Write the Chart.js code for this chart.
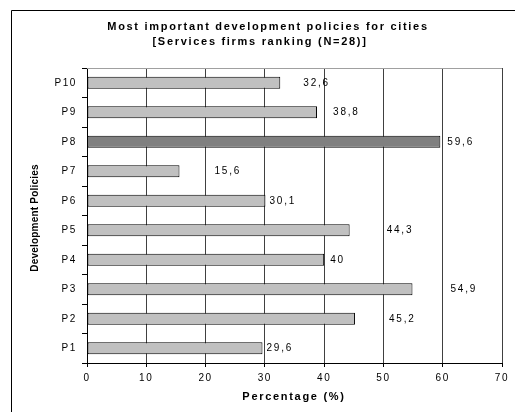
<!DOCTYPE html>
<html>
<head>
<meta charset="utf-8">
<script src="https://cdn.jsdelivr.net/npm/chart.js@4/dist/chart.umd.min.js"></script>
<style>
  html, body { margin: 0; padding: 0; background: #fff; }
  #wrap { width: 515px; height: 412px; position: relative; }
</style>
</head>
<body>
<div id="wrap"><canvas id="chart" width="515" height="412"></canvas></div>
<script>
// Policy categories, bottom to top
const policies = ['P1', 'P2', 'P3', 'P4', 'P5', 'P6', 'P7', 'P8', 'P9', 'P10'];
// Share of services firms ranking each policy (%)
const percentages = [29.6, 45.2, 54.9, 40, 44.3, 30.1, 15.6, 59.6, 38.8, 32.6];
// Percentage axis ticks
const xTicks = [0, 10, 20, 30, 40, 50, 60, 70];

const titleLines = ['Most important development policies for cities', '[Services firms ranking (N=28)]'];
const xTitle = 'Percentage (%)';
const yTitle = 'Development Policies';

const FONT = '"Liberation Sans", Arial, sans-serif';
const top1 = Math.max(...percentages);
const fills = percentages.map(v => v === top1 ? '#808080' : '#c0c0c0');

// Horizontal gaps (px) between each bar end and its value label
const labelGap = [4, 34, 38, 6, 37, 4, 35, 7, 16, 23];

const decor = {
  id: 'decor',
  beforeDraw(chart) {
    const ctx = chart.ctx;
    ctx.save();
    ctx.fillStyle = '#fff';
    ctx.fillRect(0, 0, chart.width, chart.height);
    // outer frame
    ctx.strokeStyle = '#000';
    ctx.lineWidth = 1;
    ctx.beginPath();
    ctx.moveTo(11.5, chart.height);
    ctx.lineTo(11.5, 10.5);
    ctx.lineTo(chart.width, 10.5);
    ctx.stroke();
    ctx.restore();
    // wide tracking for the axis tick labels
    ctx.letterSpacing = '1.6px';
  },
  afterDatasetsDraw(chart) {
    const ctx = chart.ctx;
    const a = chart.chartArea;
    ctx.save();
    // plot top edge
    ctx.strokeStyle = '#a0a0a0';
    ctx.lineWidth = 1;
    ctx.beginPath();
    ctx.moveTo(a.left, Math.round(a.top) + 0.5);
    ctx.lineTo(a.right, Math.round(a.top) + 0.5);
    ctx.stroke();

    // value labels
    const meta = chart.getDatasetMeta(0);
    ctx.fillStyle = '#000';
    ctx.font = '10px ' + FONT;
    ctx.letterSpacing = '1.8px';
    ctx.textBaseline = 'middle';
    ctx.textAlign = 'left';
    meta.data.forEach((bar, i) => {
      const txt = String(percentages[i]).replace('.', ',');
      ctx.fillText(txt, bar.x + labelGap[i], bar.y);
    });

    // chart title
    ctx.textAlign = 'center';
    ctx.font = 'bold 11px ' + FONT;
    ctx.letterSpacing = '1.7px';
    ctx.fillText(titleLines[0], 268, 27);
    ctx.fillText(titleLines[1], 260, 42);

    // x axis title
    ctx.fillText(xTitle, 294, 397);

    // y axis title
    ctx.translate(35, 218);
    ctx.rotate(-Math.PI / 2);
    ctx.font = 'bold 10px ' + FONT;
    ctx.letterSpacing = '0.2px';
    ctx.fillText(yTitle, 0, 0);
    ctx.restore();
  }
};

new Chart(document.getElementById('chart'), {
  type: 'bar',
  data: {
    labels: policies,
    datasets: [{
      data: percentages,
      backgroundColor: fills,
      borderColor: '#000',
      borderWidth: 1,
      borderSkipped: false,
      categoryPercentage: 1,
      barPercentage: 0.4
    }]
  },
  options: {
    indexAxis: 'y',
    responsive: false,
    animation: false,
    devicePixelRatio: 1,
    layout: { padding: { left: 0, top: 68, right: 13, bottom: 0 } },
    plugins: {
      legend: { display: false },
      title: { display: false },
      tooltip: { enabled: false }
    },
    scales: {
      x: {
        min: xTicks[0],
        max: xTicks[xTicks.length - 1],
        afterBuildTicks(scale) { scale.ticks = xTicks.map(v => ({ value: v })); },
        afterFit(scale) { scale.height = 49; },
        grid: {
          color: '#404040',
          lineWidth: 1,
          tickLength: 4,
          tickColor: '#000',
          drawTicks: true
        },
        border: { color: '#000', width: 1 },
        ticks: {
          color: '#000',
          font: { family: FONT, size: 10 },
          padding: 5,
          maxRotation: 0
        }
      },
      y: {
        reverse: true,
        afterFit(scale) { scale.width = 87; },
        grid: {
          drawOnChartArea: false,
          drawTicks: true,
          tickLength: 5,
          tickColor: '#000',
          offset: true
        },
        border: { color: '#000', width: 1 },
        ticks: {
          color: '#000',
          font: { family: FONT, size: 10 },
          padding: 5
        }
      }
    }
  },
  plugins: [decor]
});
</script>
</body>
</html>
